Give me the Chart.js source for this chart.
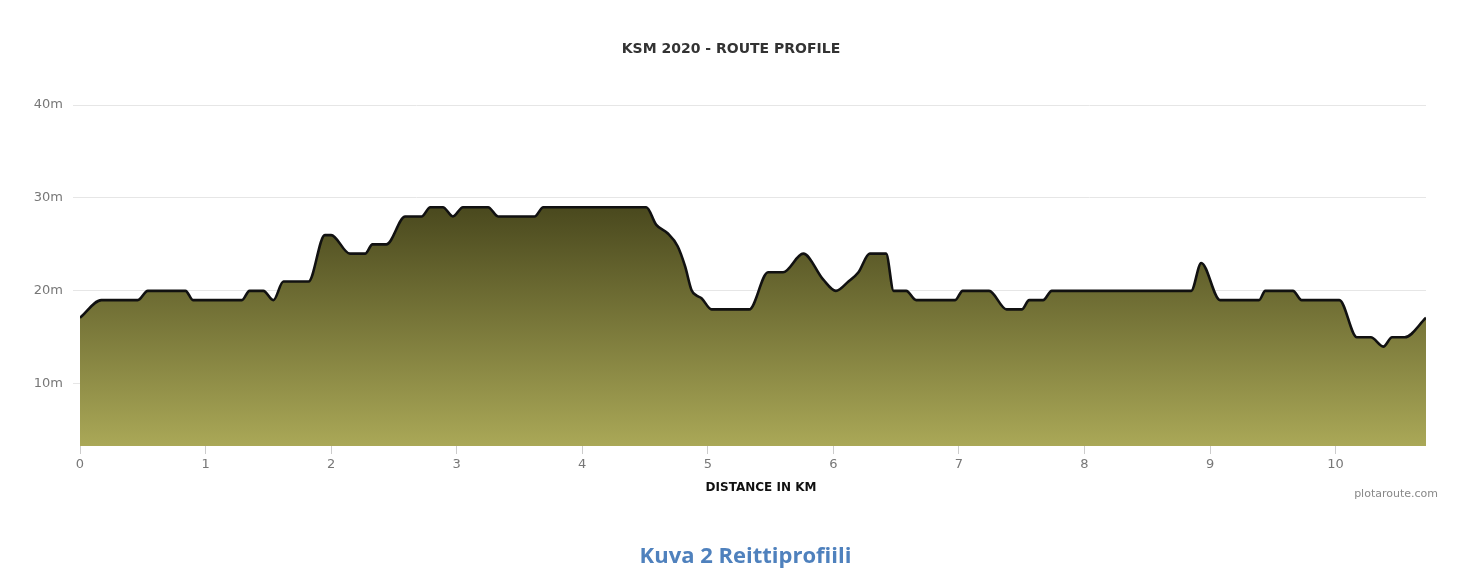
<!DOCTYPE html>
<html>
<head>
<meta charset="utf-8">
<script src="https://cdn.jsdelivr.net/npm/chart.js@4/dist/chart.umd.min.js"></script>
<style>
  html, body { margin: 0; padding: 0; background: #fff; }
  #wrap { position: relative; width: 1459px; height: 578px; }
  #chartBox { position: absolute; left: 0; top: 0; width: 1459px; height: 578px; }
  #caption { position: absolute; left: 16px; width: 1459px; top: 539px; height: 30px; line-height: 30px; text-align: center;
    font-family: "Open Sans", Lato, sans-serif; font-weight: bold; font-size: 22px; color: #4f81bd;
    font-variant-ligatures: none; font-feature-settings: "liga" 0; }
</style>
</head>
<body>
<div id="wrap">
  <div id="chartBox"><canvas id="c"></canvas></div>
  <div id="caption">Kuva 2 Reittiprofiili</div>
</div>
<script>
// distance along the route (km)
const distanceKm = [
  0, 0.17, 0.46, 0.54, 0.84, 0.90, 1.29, 1.35, 1.46, 1.54,
  1.62, 1.82, 1.95, 2.00, 2.15, 2.27, 2.33, 2.44, 2.59, 2.72,
  2.79, 2.89, 2.97, 3.05, 3.25, 3.33, 3.62, 3.69, 4.51, 4.59,
  4.68, 4.76, 4.82, 4.87, 4.91, 4.95, 5.03, 5.33, 5.48, 5.60,
  5.76, 5.92, 6.02, 6.12, 6.20, 6.29, 6.42, 6.48, 6.58, 6.66,
  6.97, 7.03, 7.24, 7.38, 7.50, 7.56, 7.67, 7.74, 8.85, 8.93,
  9.08, 9.39, 9.44, 9.66, 9.73, 10.03, 10.17, 10.28, 10.38, 10.45,
  10.55, 10.72
];
// elevation (m)
const elevationM = [
  17.1, 19, 19, 20, 20, 19, 19, 20, 20, 19,
  21, 21, 26, 26, 24, 24, 25, 25, 28, 28,
  29, 29, 28, 29, 29, 28, 28, 29, 29, 27.1,
  26.2, 24.8, 22.6, 20.1, 19.5, 19.2, 18, 18, 22, 22,
  24, 21.2, 20, 21, 22, 24, 24, 20, 20, 19,
  19, 20, 20, 18, 18, 19, 19, 20, 20, 23,
  19, 19, 20, 20, 19, 19, 15, 15, 14, 15,
  15, 17.1
];
const yTickValues = [10, 20, 30, 40];
const xTickValues = [0, 1, 2, 3, 4, 5, 6, 7, 8, 9, 10];

const chartTitle = 'KSM 2020 - ROUTE PROFILE';
const xAxisTitle = 'DISTANCE IN KM';
const creditText = 'plotaroute.com';

const points = distanceKm.map((d, i) => ({ x: d, y: elevationM[i] }));

const textPlugin = {
  id: 'texts',
  afterDraw(chart) {
    const ctx = chart.ctx;
    ctx.save();
    ctx.fillStyle = '#333';
    ctx.font = 'bold 14px "DejaVu Sans", sans-serif';
    ctx.textAlign = 'center';
    ctx.textBaseline = 'middle';
    ctx.fillText(chartTitle, 731, 49);
    ctx.fillStyle = '#111';
    ctx.font = 'bold 12px "DejaVu Sans", sans-serif';
    ctx.fillText(xAxisTitle, 761, 488);
    ctx.fillStyle = '#888';
    ctx.font = '11px "DejaVu Sans", sans-serif';
    ctx.textAlign = 'right';
    ctx.fillText(creditText, 1438, 494);
    ctx.restore();
  }
};

new Chart(document.getElementById('c'), {
  type: 'line',
  data: {
    datasets: [{
      data: points,
      borderColor: '#111',
      borderWidth: 2.6,
      pointRadius: 0,
      cubicInterpolationMode: 'monotone',
      fill: 'start',
      backgroundColor: (context) => {
        const chart = context.chart;
        const a = chart.chartArea;
        if (!a) return '#777733';
        const g = chart.ctx.createLinearGradient(0, a.top, 0, a.bottom);
        g.addColorStop(0, '#35340f');
        g.addColorStop(0.28, '#47461c');
        g.addColorStop(1, '#aaa857');
        return g;
      }
    }]
  },
  options: {
    responsive: true,
    maintainAspectRatio: false,
    animation: false,
    layout: { padding: { top: 105, right: 33, bottom: 83.4, left: 0 } },
    plugins: {
      legend: { display: false },
      tooltip: { enabled: false },
      title: { display: false }
    },
    scales: {
      x: {
        type: 'linear',
        min: 0,
        max: 10.72,
        afterBuildTicks: (s) => { s.ticks = xTickValues.map(v => ({ value: v })); },
        afterFit: (s) => { s.height = 48.6; },
        ticks: { color: '#777', font: { family: '"DejaVu Sans", sans-serif', size: 13 }, padding: 3, maxRotation: 0 },
        grid: { display: true, drawOnChartArea: false, drawTicks: true, tickLength: 8, color: '#ccc' },
        border: { display: false },
        title: { display: false, text: xAxisTitle }
      },
      y: {
        type: 'linear',
        min: 3.3,
        max: 40,
        afterBuildTicks: (s) => { s.ticks = yTickValues.map(v => ({ value: v })); },
        afterFit: (s) => { s.width = 80; },
        ticks: { color: '#777', font: { family: '"DejaVu Sans", sans-serif', size: 13 }, padding: 10,
          callback: (v) => v + 'm' },
        grid: { color: '#e6e6e6', tickLength: 7 },
        border: { display: false }
      }
    }
  },
  plugins: [textPlugin]
});
</script>
</body>
</html>
